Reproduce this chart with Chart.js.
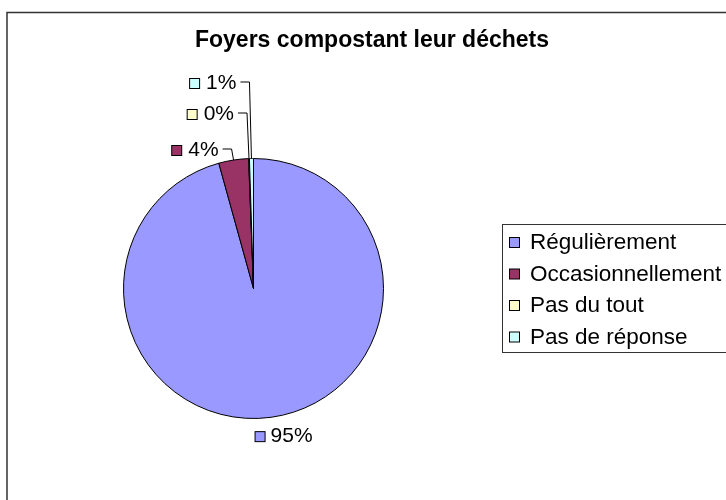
<!DOCTYPE html>
<html>
<head>
<meta charset="utf-8">
<script src="https://cdn.jsdelivr.net/npm/chart.js@4/dist/chart.umd.min.js"></script>
<style>
  body { margin: 0; background: #fff; }
  #wrap { width: 726px; height: 500px; }
</style>
</head>
<body>
<div id="wrap"><canvas id="myChart" width="726" height="500"></canvas></div>
<script>
const chartTitle = "Foyers compostant leur déchets";
const categories = ["Régulièrement", "Occasionnellement", "Pas du tout", "Pas de réponse"];
const shares = [95.7, 3.7, 0.1, 0.5];
const pctLabels = ["95%", "4%", "0%", "1%"];
const sliceColors = ["#9999FF", "#993366", "#FFFFCC", "#CCFFFF"];

const FONT = "'Liberation Sans', Arial, sans-serif";

// knee heights for the callouts of the small slices (index -> y)
const calloutY = { 1: 149, 2: 113, 3: 82 };

function box(ctx, x, y, color) {
  ctx.fillStyle = color;
  ctx.fillRect(x + 0.5, y - 4.5, 10, 10);
  ctx.strokeStyle = "#000";
  ctx.lineWidth = 1;
  ctx.strokeRect(x + 0.5, y - 4.5, 10, 10);
}

const decorations = {
  id: "decorations",
  beforeDraw(chart) {
    const ctx = chart.ctx;
    ctx.save();
    ctx.strokeStyle = "#333";
    ctx.lineWidth = 1.5;
    ctx.strokeRect(7, 12.5, 900, 700);
    ctx.restore();
  },
  afterDraw(chart) {
    const ctx = chart.ctx;
    const arcs = chart.getDatasetMeta(0).data;
    ctx.save();

    // title
    ctx.fillStyle = "#000";
    ctx.font = "bold 23px " + FONT;
    ctx.textAlign = "center";
    ctx.textBaseline = "middle";
    ctx.fillText(chartTitle, 372, 41);

    // percentage labels
    ctx.font = "21px " + FONT;
    ctx.textAlign = "left";
    arcs.forEach((arc, i) => {
      const p = arc.getProps(["x", "y", "startAngle", "endAngle", "outerRadius"], true);
      const mid = (p.startAngle + p.endAngle) / 2;
      const ax = p.x + Math.cos(mid) * p.outerRadius;
      const ay = p.y + Math.sin(mid) * p.outerRadius;
      const txt = pctLabels[i];
      const tw = ctx.measureText(txt).width;
      let cx, cy;
      if (calloutY[i] !== undefined) {
        const kx = ax - 2;
        const ky = calloutY[i];
        ctx.strokeStyle = "#000";
        ctx.lineWidth = 1;
        ctx.beginPath();
        ctx.moveTo(ax, ay);
        ctx.lineTo(kx, ky);
        ctx.lineTo(kx - 9, ky);
        ctx.stroke();
        const right = kx - 13;
        cy = ky + 1;
        ctx.fillStyle = "#000";
        ctx.fillText(txt, right - tw, cy);
        cx = right - tw - 17;
      } else {
        const lx = ax + Math.cos(mid) * 19;
        const ly = ay + Math.sin(mid) * 19;
        cx = lx - 19;
        cy = ly;
        ctx.fillStyle = "#000";
        ctx.fillText(txt, cx + 16, cy);
      }
      box(ctx, cx, cy, sliceColors[i]);
    });

    // legend
    ctx.strokeStyle = "#333";
    ctx.lineWidth = 1;
    ctx.strokeRect(502.5, 224.5, 400, 128);
    ctx.font = "22.5px " + FONT;
    categories.forEach((c, i) => {
      const y = 242 + i * 31.5;
      box(ctx, 509, y, sliceColors[i]);
      ctx.fillStyle = "#000";
      ctx.fillText(c, 530, y + 1);
    });
    ctx.restore();
  }
};

const config = {
  type: "pie",
  data: {
    labels: categories,
    datasets: [
      {
        data: shares,
        backgroundColor: sliceColors,
        borderColor: "#000",
        borderWidth: 1,
      },
    ],
  },
  options: {
    responsive: false,
    animation: false,
    layout: {
      padding: { left: 123, right: 342, top: 158, bottom: 81 },
    },
    plugins: {
      legend: { display: false },
      title: { display: false },
      tooltip: { enabled: false },
    },
  },
  plugins: [decorations],
};

var myChart = new Chart(document.getElementById("myChart"), config);
</script>
</body>
</html>
